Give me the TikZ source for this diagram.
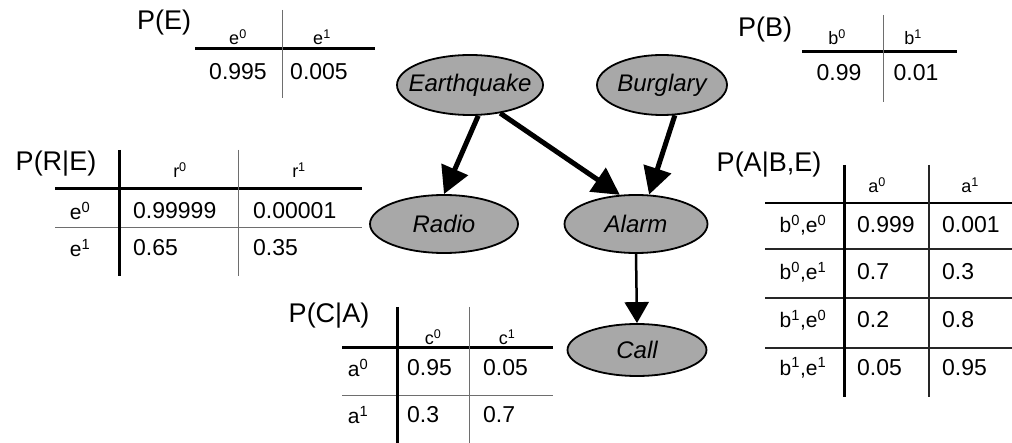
\documentclass[tikz,border=0pt]{standalone}
\usepackage{fontspec}
\setmainfont{Liberation Sans}
\usetikzlibrary{shapes.geometric,arrows.meta}
\definecolor{nodefill}{RGB}{168,168,168}
\definecolor{thingray}{RGB}{110,110,110}
\newcommand{\lblfont}{\fontsize{27}{27}\selectfont}
\newcommand{\valfont}{\fontsize{23}{23}\selectfont}
\newcommand{\hdrfont}{\fontsize{18}{18}\selectfont}
\newcommand{\rowfont}{\fontsize{21}{21}\selectfont}
\newcommand{\sps}[1]{\textsuperscript{#1}}
\begin{document}
\begin{tikzpicture}[x=1pt,y=-1pt,
  bnode/.style={ellipse,draw=black,line width=1.8pt,fill=nodefill,inner sep=0pt,
    font=\fontsize{24}{24}\selectfont\itshape},
  bigarrow/.style={line width=5pt,-{Triangle[length=27pt,width=28pt]}},
  smallarrow/.style={line width=2.5pt,-{Triangle[length=21pt,width=24pt]}},
  thickrule/.style={line width=3pt,black},
  midrule/.style={line width=1.6pt,black!85},
  thinrule/.style={line width=1pt,thingray},
  lbl/.style={inner sep=0pt,font=\lblfont},
  val/.style={inner sep=0pt,anchor=west,font=\valfont},
  cval/.style={inner sep=0pt,font=\valfont},
  hdr/.style={inner sep=0pt,anchor=base,font=\hdrfont},
  rowl/.style={inner sep=0pt,font=\rowfont}]
\useasboundingbox (0,0) rectangle (1012,443);
\fill[white] (0,0) rectangle (1012,443);

% ---------- network ----------
\node[bnode,minimum width=146pt,minimum height=60pt] (eq) at (470,85) {\makebox[0pt]{Earthquake}};
\node[bnode,minimum width=130pt,minimum height=60pt] (bu) at (662,85) {\makebox[0pt]{Burglary}};
\node[bnode,minimum width=148pt,minimum height=58pt] (ra) at (444,224) {\makebox[0pt]{Radio}};
\node[bnode,minimum width=143pt,minimum height=58pt] (al) at (636,224) {\makebox[0pt]{Alarm}};
\node[bnode,minimum width=139pt,minimum height=52pt] (ca) at (637,350) {\makebox[0pt]{Call}};

\draw[bigarrow] (eq.-75) -- (ra.north);
\draw[bigarrow] (eq.-43) -- (al.119);
\draw[bigarrow] (bu.-67) -- (al.66);
\draw[smallarrow] (al.south) -- (ca.north);

% ---------- P(E) ----------
\node[lbl] (pe) at (164,23) {P(E)};
\node[hdr] (pe0) at (238,45) {e\sps{0}};
\node[hdr] (pe1) at (322,45) {e\sps{1}};
\node[cval] (pev0) at (238,72) {0.995};
\node[cval] (pev1) at (319,72) {0.005};
\draw[thickrule] (195,49) -- (375,49);
\draw[thinrule] (282,10) -- (282,98);

% ---------- P(B) ----------
\node[lbl] (pb) at (765,30) {P(B)};
\node[hdr] (pb0) at (837,45) {b\sps{0}};
\node[hdr] (pb1) at (913,45) {b\sps{1}};
\node[cval] (pbv0) at (839,73) {0.99};
\node[cval] (pbv1) at (916,73) {0.01};
\draw[thickrule] (802,52) -- (957,52);
\draw[thinrule] (883,15) -- (883,102);

% ---------- P(R|E) ----------
\node[lbl] (pr) at (56,164) {P(R|E)};
\node[hdr] (pr0) at (180,178) {r\sps{0}};
\node[hdr] (pr1) at (299,178) {r\sps{1}};
\node[rowl] (pre0) at (80,211) {e\sps{0}};
\node[rowl] (pre1) at (80,248) {e\sps{1}};
\node[val] (prv00) at (133,211) {0.99999};
\node[val] (prv01) at (253,211) {0.00001};
\node[val] (prv10) at (133,248) {0.65};
\node[val] (prv11) at (253,248) {0.35};
\draw[thickrule] (55,189) -- (362,189);
\draw[thinrule] (55,228) -- (362,228);
\draw[thickrule] (119,150) -- (119,276);
\draw[thinrule] (238,150) -- (238,276);

% ---------- P(A|B,E) ----------
\node[lbl] (pa) at (769,165) {P(A|B,E)};
\node[hdr] (pa0) at (877,193) {a\sps{0}};
\node[hdr] (pa1) at (970,193) {a\sps{1}};
\node[rowl] (par1) at (803,225) {b\sps{0},e\sps{0}};
\node[rowl] (par2) at (803,272) {b\sps{0},e\sps{1}};
\node[rowl] (par3) at (803,320) {b\sps{1},e\sps{0}};
\node[rowl] (par4) at (803,368) {b\sps{1},e\sps{1}};
\node[val] (pav10) at (857,225) {0.999};
\node[val] (pav11) at (942,225) {0.001};
\node[val] (pav20) at (857,272) {0.7};
\node[val] (pav21) at (942,272) {0.3};
\node[val] (pav30) at (857,320) {0.2};
\node[val] (pav31) at (942,320) {0.8};
\node[val] (pav40) at (857,368) {0.05};
\node[val] (pav41) at (942,368) {0.95};
\draw[thickrule,line width=2.5pt] (765,203) -- (1012,203);
\draw[midrule] (765,249) -- (1012,249);
\draw[midrule] (765,298) -- (1012,298);
\draw[midrule] (765,348) -- (1012,348);
\draw[thickrule] (844,165) -- (844,397);
\draw[midrule] (929,165) -- (929,397);

% ---------- P(C|A) ----------
\node[lbl] (pc) at (329,316) {P(C|A)};
\node[hdr] (pc0) at (433,345) {c\sps{0}};
\node[hdr] (pc1) at (507,345) {c\sps{1}};
\node[rowl] (pca0) at (358,368) {a\sps{0}};
\node[rowl] (pca1) at (358,415) {a\sps{1}};
\node[val] (pcv00) at (407,368) {0.95};
\node[val] (pcv01) at (483,368) {0.05};
\node[val] (pcv10) at (407,415) {0.3};
\node[val] (pcv11) at (483,415) {0.7};
\draw[thickrule] (342,348) -- (553,348);
\draw[thinrule] (342,396) -- (553,396);
\draw[thickrule] (397,307) -- (397,443);
\draw[thinrule] (469,307) -- (469,443);
\end{tikzpicture}
\end{document}
